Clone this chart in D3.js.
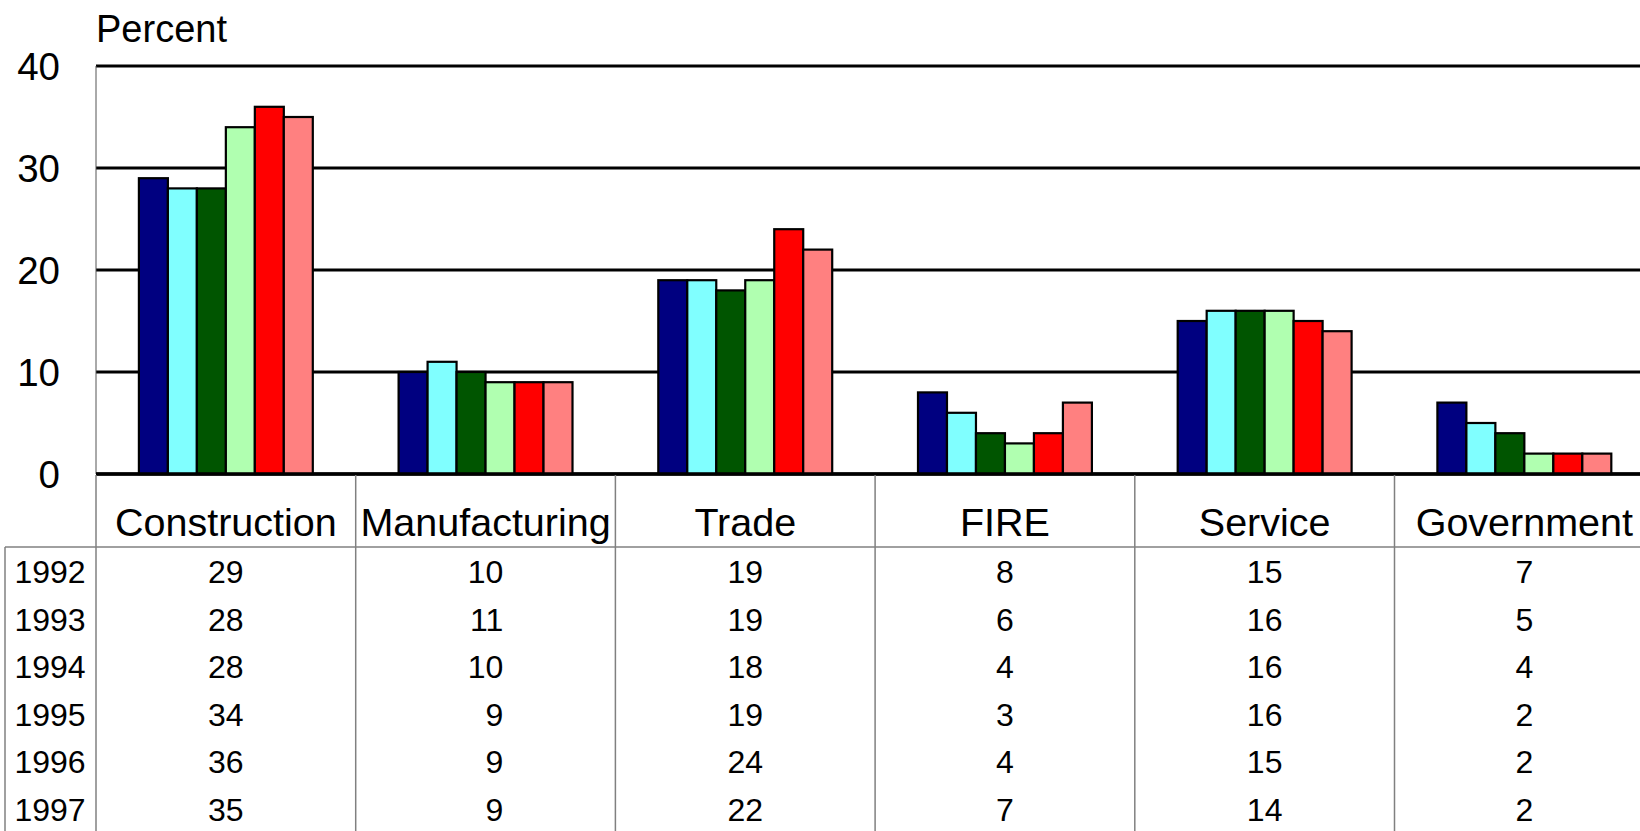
<!DOCTYPE html>
<html>
<head>
<meta charset="utf-8">
<script src="https://cdn.jsdelivr.net/npm/d3@7"></script>
<style>
  body { margin: 0; background: #fff; overflow: hidden; }
  svg { display: block; font-family: "Liberation Sans", Arial, sans-serif; }
</style>
</head>
<body>
<script>
// data
var categories = ["Construction", "Manufacturing", "Trade", "FIRE", "Service", "Government"];
var years = ["1992", "1993", "1994", "1995", "1996", "1997"];
var construction = [29, 28, 28, 34, 36, 35];
var manufacturing = [10, 11, 10, 9, 9, 9];
var trade = [19, 19, 18, 19, 24, 22];
var fire = [8, 6, 4, 3, 4, 7];
var service = [15, 16, 16, 16, 15, 14];
var government = [7, 5, 4, 2, 2, 2];
var yTicks = [0, 10, 20, 30, 40];
var yearColors = ["#000080", "#80ffff", "#005500", "#b0ffb0", "#ff0000", "#ff8080"];

var values = [construction, manufacturing, trade, fire, service, government];

var width = 1640, height = 831;
var plotLeft = 96, catWidth = 259.7;

var svg = d3.select("body").append("svg")
    .attr("width", width)
    .attr("height", height);

var x = d3.scaleBand()
    .domain(categories)
    .range([plotLeft, plotLeft + catWidth * categories.length]);

var xInner = d3.scaleBand()
    .domain(years)
    .range([0, x.bandwidth()])
    .paddingOuter(1.48);

var y = d3.scaleLinear()
    .domain([0, 40])
    .range([474, 66]);

// gridlines
svg.append("g")
    .selectAll("line")
    .data(yTicks)
    .enter()
    .append("line")
    .attr("x1", plotLeft)
    .attr("x2", width)
    .attr("y1", function(d){ return y(d); })
    .attr("y2", function(d){ return y(d); })
    .attr("stroke", "#000")
    .attr("stroke-width", 3);

// left edge of the plot
svg.append("line")
    .attr("x1", plotLeft).attr("x2", plotLeft)
    .attr("y1", y(40)).attr("y2", y(0))
    .attr("stroke", "#555")
    .attr("stroke-width", 1);

// tick labels
svg.append("g")
    .selectAll("text")
    .data(yTicks)
    .enter()
    .append("text")
    .attr("x", 60)
    .attr("y", function(d){ return y(d); })
    .attr("dy", "0.36em")
    .attr("text-anchor", "end")
    .attr("font-size", 38.5)
    .text(function(d){ return d; });

svg.append("text")
    .attr("x", 96)
    .attr("y", 42)
    .attr("font-size", 38)
    .text("Percent");

// bars
var groups = svg.append("g")
    .selectAll("g")
    .data(categories)
    .enter()
    .append("g")
    .attr("transform", function(d){ return "translate(" + x(d) + ",0)"; });

groups.selectAll("rect")
    .data(function(d, i){
        return years.map(function(yr, j){ return { year: yr, value: values[i][j], j: j }; });
    })
    .enter()
    .append("rect")
    .attr("x", function(d){ return xInner(d.year); })
    .attr("width", xInner.bandwidth())
    .attr("y", function(d){ return y(d.value); })
    .attr("height", function(d){ return y(0) - y(d.value); })
    .attr("fill", function(d){ return yearColors[d.j]; })
    .attr("stroke", "#000")
    .attr("stroke-width", 2.2);

// zero line on top
svg.append("line")
    .attr("x1", plotLeft).attr("x2", width)
    .attr("y1", y(0)).attr("y2", y(0))
    .attr("stroke", "#000")
    .attr("stroke-width", 3.5);

// data table
var headerBottom = 547, rowStep = 47.6, firstBase = 583;
var tableLine = "#808080";

svg.append("line")
    .attr("x1", 5).attr("x2", width)
    .attr("y1", headerBottom).attr("y2", headerBottom)
    .attr("stroke", tableLine)
    .attr("stroke-width", 1.5);

svg.append("line")
    .attr("x1", 5).attr("x2", 5)
    .attr("y1", headerBottom).attr("y2", height)
    .attr("stroke", tableLine)
    .attr("stroke-width", 1.5);

svg.append("g")
    .selectAll("line")
    .data(categories)
    .enter()
    .append("line")
    .attr("x1", function(d){ return x(d); })
    .attr("x2", function(d){ return x(d); })
    .attr("y1", y(0) + 1)
    .attr("y2", height)
    .attr("stroke", tableLine)
    .attr("stroke-width", 1.5);

svg.append("g")
    .selectAll("text")
    .data(categories)
    .enter()
    .append("text")
    .attr("x", function(d){ return x(d) + x.bandwidth() / 2; })
    .attr("y", 536)
    .attr("text-anchor", "middle")
    .attr("font-size", 39.5)
    .text(function(d){ return d; });

svg.append("g")
    .selectAll("text")
    .data(years)
    .enter()
    .append("text")
    .attr("x", 50)
    .attr("y", function(d, i){ return firstBase + i * rowStep; })
    .attr("text-anchor", "middle")
    .attr("font-size", 32)
    .text(function(d){ return d; });

var cellSize = 32;
categories.forEach(function(c, i){
    var wide = d3.max(values[i]) >= 10;
    var cx = x(c) + x.bandwidth() / 2;
    svg.append("g")
        .selectAll("text")
        .data(values[i])
        .enter()
        .append("text")
        .attr("x", wide ? cx + cellSize * 0.556 : cx)
        .attr("y", function(d, j){ return firstBase + j * rowStep; })
        .attr("text-anchor", wide ? "end" : "middle")
        .attr("font-size", cellSize)
        .text(function(d){ return d; });
});
</script>
</body>
</html>
